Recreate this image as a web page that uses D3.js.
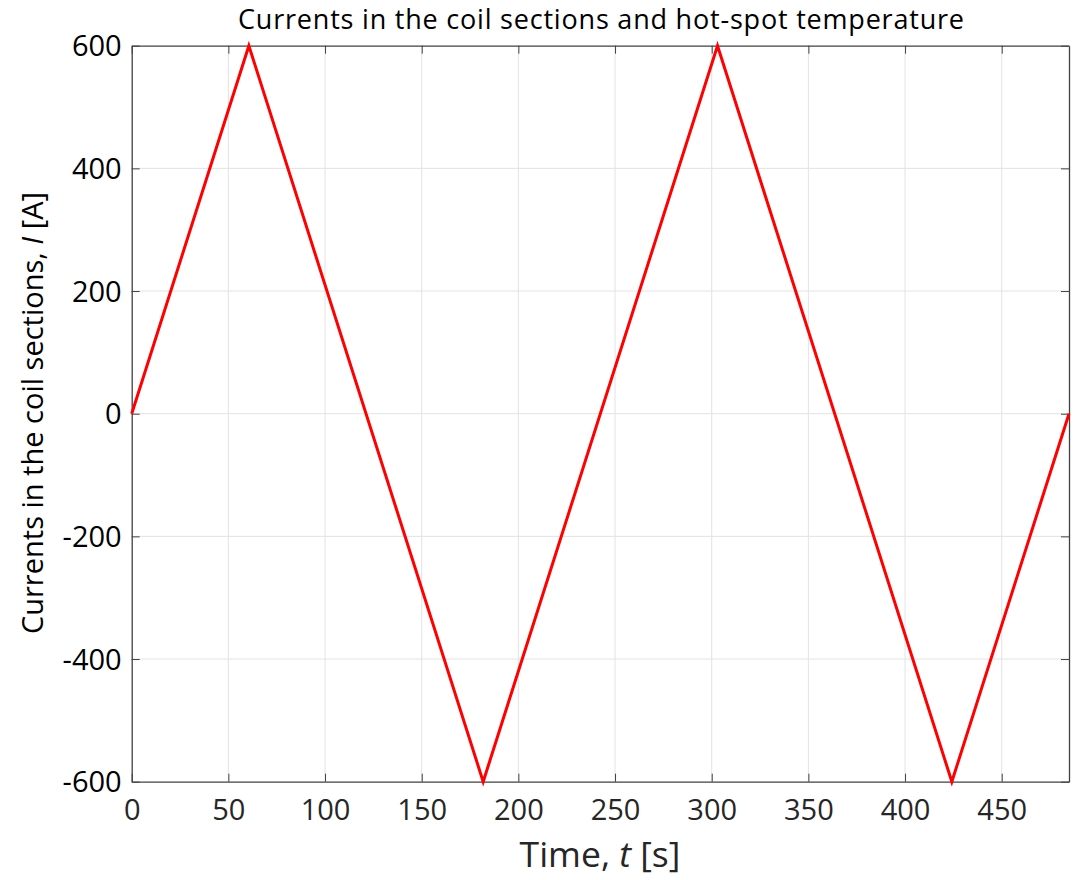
<!DOCTYPE html>
<html><head><meta charset="utf-8">
<script src="https://cdn.jsdelivr.net/npm/d3@7"></script>
<style>body{margin:0;background:#fff}</style>
</head><body>
<svg id="c" width="1077" height="880"></svg>
<script>
const timeS = [0, 60.6, 181.8, 303, 424.2, 484.8];
const currentA = [0, 600, -600, 600, -600, 0];
const xTicks = [0, 50, 100, 150, 200, 250, 300, 350, 400, 450];
const yTicks = [-600, -400, -200, 0, 200, 400, 600];
const titleText = "Currents in the coil sections and hot-spot temperature";

const svg = d3.select("#c");
const m = {l: 131.7, r: 1069, t: 45.7, b: 781.7};
const x = d3.scaleLinear().domain([0, 484.8]).range([m.l, m.r]);
const y = d3.scaleLinear().domain([-600, 600]).range([m.b, m.t]);
const font = "'Open Sans', sans-serif";
const fmt = d => String(d);

// grid
svg.append("g").selectAll("line").data(xTicks.filter(d=>d>0)).join("line")
  .attr("x1", d=>x(d)).attr("x2", d=>x(d)).attr("y1", m.t).attr("y2", m.b)
  .attr("stroke", "#e3e3e3").attr("stroke-width", 1);
svg.append("g").selectAll("line").data(yTicks.filter(d=>d>-600 && d<600)).join("line")
  .attr("y1", d=>y(d)).attr("y2", d=>y(d)).attr("x1", m.l).attr("x2", m.r)
  .attr("stroke", "#e3e3e3").attr("stroke-width", 1);

// axes
const xb = svg.append("g").attr("transform", `translate(0,${m.b})`)
  .call(d3.axisBottom(x).tickValues(xTicks).tickSize(-8).tickSizeOuter(0).tickPadding(18).tickFormat(fmt));
const xt = svg.append("g").attr("transform", `translate(0,${m.t})`)
  .call(d3.axisTop(x).tickValues(xTicks).tickSize(-8).tickSizeOuter(0).tickFormat(""));
const yl = svg.append("g").attr("transform", `translate(${m.l},0)`)
  .call(d3.axisLeft(y).tickValues(yTicks).tickSize(-8).tickSizeOuter(0).tickPadding(10).tickFormat(fmt));
const yr = svg.append("g").attr("transform", `translate(${m.r},0)`)
  .call(d3.axisRight(y).tickValues(yTicks).tickSize(-8).tickSizeOuter(0).tickFormat(""));
[xb, xt, yl, yr].forEach(g => {
  g.select(".domain").attr("stroke", "#404040").attr("stroke-width", 1.3);
  g.selectAll(".tick line").attr("stroke", "#404040").attr("stroke-width", 1);
  g.selectAll(".tick text").attr("font-family", font).attr("font-size", 29).attr("fill", "#262626");
});
yl.selectAll(".tick text").attr("fill", "#000").attr("dy", "0.35em");

// line
svg.append("path").datum(timeS.map((t,i)=>[t, currentA[i]]))
  .attr("d", d3.line().x(d=>x(d[0])).y(d=>y(d[1])))
  .attr("fill", "none").attr("stroke", "#ff0000").attr("stroke-width", 3)
  .attr("stroke-linejoin", "miter");

// title
svg.append("text").attr("x", 601).attr("y", 29).attr("text-anchor", "middle")
  .attr("font-family", font).attr("font-size", 27).attr("textLength", 726)
  .attr("lengthAdjust", "spacing").attr("fill", "#000").text(titleText);

// x label
const xlab = svg.append("text").attr("x", 600).attr("y", 867).attr("text-anchor", "middle")
  .attr("font-family", font).attr("font-size", 35.5).attr("fill", "#262626");
xlab.append("tspan").text("Time, ");
xlab.append("tspan").attr("font-style", "italic").text("t");
xlab.append("tspan").text(" [s]");

// y label
const ylab = svg.append("text").attr("transform", `translate(43,413) rotate(-90)`).attr("text-anchor", "middle")
  .attr("font-family", font).attr("font-size", 29).attr("fill", "#000");
ylab.append("tspan").text("Currents in the coil sections, ");
ylab.append("tspan").attr("font-style", "italic").text("I");
ylab.append("tspan").text(" [A]");
</script>
</body></html>
